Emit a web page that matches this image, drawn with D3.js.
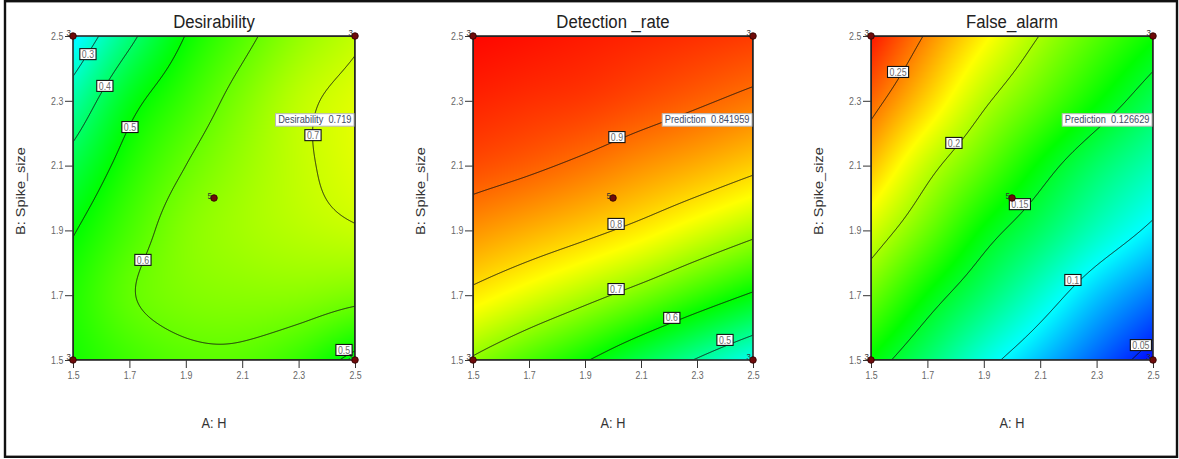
<!DOCTYPE html>
<html>
<head>
<meta charset="utf-8">
<script src="https://cdn.jsdelivr.net/npm/d3@7"></script>
<style>
  body { margin: 0; background: #fff; }
  svg { display: block; }
  text { font-family: "Liberation Sans", Arial, sans-serif; }
</style>
</head>
<body>
<svg id="chart" width="1179" height="459"></svg>
<script>
// Factor levels (grid nodes) and tick labels
const factorA = [1.5, 1.7, 1.9, 2.1, 2.3, 2.5];
const factorB = [1.5, 1.7, 1.9, 2.1, 2.3, 2.5];
const tickLabels = ["1.5", "1.7", "1.9", "2.1", "2.3", "2.5"];

// Response surfaces: one row per B level (1.5 -> 2.5), one column per A level (1.5 -> 2.5)
const desirability = [
  [0.52, 0.56, 0.585, 0.585, 0.55, 0.48],
  [0.53, 0.595, 0.625, 0.635, 0.635, 0.62],
  [0.495, 0.57, 0.63, 0.66, 0.68, 0.695],
  [0.43, 0.53, 0.60, 0.65, 0.69, 0.72],
  [0.34, 0.475, 0.555, 0.625, 0.685, 0.72],
  [0.23, 0.38, 0.502, 0.58, 0.645, 0.69]
];
const detectionRate = [
  [0.694, 0.649, 0.604, 0.550, 0.496, 0.440],
  [0.787, 0.752, 0.717, 0.679, 0.636, 0.593],
  [0.863, 0.839, 0.814, 0.785, 0.750, 0.715],
  [0.925, 0.909, 0.889, 0.864, 0.840, 0.813],
  [0.960, 0.950, 0.941, 0.925, 0.907, 0.887],
  [0.985, 0.977, 0.968, 0.959, 0.950, 0.940]
];
const falseAlarm = [
  [0.159, 0.134, 0.107, 0.085, 0.063, 0.042],
  [0.186, 0.159, 0.135, 0.111, 0.087, 0.068],
  [0.211, 0.185, 0.158, 0.137, 0.115, 0.096],
  [0.235, 0.206, 0.182, 0.158, 0.136, 0.118],
  [0.256, 0.230, 0.203, 0.182, 0.161, 0.140],
  [0.275, 0.248, 0.223, 0.1995, 0.180, 0.162]
];

// Contour levels
const desirabilityLevels = [0.3, 0.4, 0.5, 0.6, 0.7];
const detectionLevels = [0.5, 0.6, 0.7, 0.8, 0.9];
const falseAlarmLevels = [0.05, 0.1, 0.15, 0.2, 0.25];

// Contour label anchors (A, B)
const desirabilityTags = [
  ["0.3", 1.553, 2.444], ["0.4", 1.613, 2.346], ["0.5", 1.702, 2.219],
  ["0.6", 1.748, 1.809], ["0.7", 2.351, 2.194], ["0.5", 2.461, 1.531]
];
const detectionTags = [
  ["0.9", 2.014, 2.188], ["0.8", 2.011, 1.92], ["0.7", 2.011, 1.719],
  ["0.6", 2.21, 1.63], ["0.5", 2.40, 1.562]
];
const falseAlarmTags = [
  ["0.25", 1.596, 2.389], ["0.2", 1.794, 2.17], ["0.15", 2.028, 1.981],
  ["0.1", 2.216, 1.747], ["0.05", 2.457, 1.546]
];

// Colour ramp stops (value at blue, cyan, green, yellow, red)
const desirabilityStops = [0, 0.25, 0.5, 0.75, 1.0];
const detectionStops = [0.26, 0.43, 0.6, 0.77, 0.99];
const falseAlarmStops = [0.04, 0.10, 0.16, 0.22, 0.28];
const ramp = ["#0000ff", "#00ffff", "#00ff00", "#ffff00", "#ff0000"];

// Design points: [A, B, replicate count]
const designPoints = [[1.5, 2.5, 3], [2.5, 2.5, 3], [1.5, 1.5, 3], [2.5, 1.5, 3], [2.0, 2.0, 5]];

// Flagged optimum and its predicted responses
const flagA = 2.5, flagB = 2.18;
const flagTexts = ["Desirability  0.719", "Prediction  0.841959", "Prediction  0.126629"];

const titles = ["Desirability", "Detection _rate", "False_alarm"];
const xTitle = "A: H";
const yTitle = "B: Spike_size";

const svg = d3.select("#chart");
const SQ = 0.88; // horizontal glyph compression

const panels = [
  { grid: desirability, levels: desirabilityLevels, stops: desirabilityStops, tags: desirabilityTags, left: 73, right: 355 },
  { grid: detectionRate, levels: detectionLevels, stops: detectionStops, tags: detectionTags, left: 473, right: 753 },
  { grid: falseAlarm, levels: falseAlarmLevels, stops: falseAlarmStops, tags: falseAlarmTags, left: 871, right: 1153 }
];
const plotTop = 36, plotBottom = 360;

// Catmull-Rom sampling across the factor grid
function cr(p0, p1, p2, p3, t) {
  return 0.5 * (2 * p1 + (-p0 + p2) * t + (2 * p0 - 5 * p1 + 4 * p2 - p3) * t * t + (-p0 + 3 * p1 - 3 * p2 + p3) * t * t * t);
}
function sample1(arr, u) {
  const n = arr.length;
  const i = Math.max(0, Math.min(Math.floor(u), n - 2));
  const t = u - i;
  const g = k => k < 0 ? 2 * arr[0] - arr[1] : k >= n ? 2 * arr[n - 1] - arr[n - 2] : arr[k];
  return cr(g(i - 1), g(i), g(i + 1), g(i + 2), t);
}
function surface(grid, a, b) {
  const u = (a - factorA[0]) / (factorA[1] - factorA[0]);
  const v = (b - factorB[0]) / (factorB[1] - factorB[0]);
  const col = grid.map(row => sample1(row, u));
  return sample1(col, v);
}

function place(sel, x, y, rot) {
  sel.attr("transform", `translate(${x},${y}) scale(${SQ},1)` + (rot ? ` rotate(${rot})` : ""));
}

panels.forEach((p, k) => {
  const x = d3.scaleLinear([1.5, 2.5], [p.left, p.right]);
  const y = d3.scaleLinear([1.5, 2.5], [plotBottom, plotTop]);
  const w = p.right - p.left, h = plotBottom - plotTop;
  const nx = Math.round(w), ny = Math.round(h);
  const color = d3.scaleLinear().domain(p.stops).range(ramp).clamp(true);

  // sample the surface on a fine grid
  const values = new Float64Array(nx * ny);
  for (let j = 0; j < ny; j++) {
    const b = y.invert(plotTop + (j + 0.5) * h / ny);
    for (let i = 0; i < nx; i++) {
      const a = x.invert(p.left + (i + 0.5) * w / nx);
      values[j * nx + i] = surface(p.grid, a, b);
    }
  }

  // colour fill
  const canvas = document.createElement("canvas");
  canvas.width = nx; canvas.height = ny;
  const ctx = canvas.getContext("2d");
  const img = ctx.createImageData(nx, ny);
  for (let n = 0; n < values.length; n++) {
    const c = d3.rgb(color(values[n]));
    img.data[4 * n] = c.r; img.data[4 * n + 1] = c.g; img.data[4 * n + 2] = c.b; img.data[4 * n + 3] = 255;
  }
  ctx.putImageData(img, 0, 0);

  const g = svg.append("g");
  const clipId = "clip" + k;
  g.append("clipPath").attr("id", clipId)
    .append("rect").attr("x", p.left).attr("y", plotTop).attr("width", w).attr("height", h);

  g.append("image")
    .attr("x", p.left).attr("y", plotTop).attr("width", w).attr("height", h)
    .attr("preserveAspectRatio", "none")
    .attr("href", canvas.toDataURL());

  // contour lines
  const contours = d3.contours().size([nx, ny]).thresholds(p.levels)(values);
  const proj = d3.geoTransform({
    point(px, py) { this.stream.point(p.left + px * w / nx, plotTop + py * h / ny); }
  });
  g.append("g").attr("clip-path", `url(#${clipId})`)
    .selectAll("path").data(contours).join("path")
    .attr("d", d3.geoPath(proj))
    .attr("fill", "none").attr("stroke", "#111").attr("stroke-width", 0.9);

  // frame
  g.append("rect").attr("x", p.left).attr("y", plotTop).attr("width", w).attr("height", h)
    .attr("fill", "none").attr("stroke", "#2a2a2a").attr("stroke-width", 1.6);

  // axes
  const styleAxis = ax => {
    ax.select(".domain").remove();
    ax.selectAll("line").attr("stroke", "#333");
    ax.selectAll("text").attr("fill", "#666").attr("font-size", 10)
      .attr("font-family", "Liberation Sans, Arial, sans-serif")
      .attr("transform", `scale(${SQ},1)`);
  };
  g.append("g").attr("transform", `translate(${p.left},0)`)
    .call(d3.axisLeft(y).tickValues(factorB).tickSize(8).tickPadding(3).tickFormat((d, i) => tickLabels[i]))
    .call(styleAxis);
  g.append("g").attr("transform", `translate(0,${plotBottom})`)
    .call(d3.axisBottom(x).tickValues(factorA).tickSize(8).tickPadding(4).tickFormat((d, i) => tickLabels[i]))
    .call(styleAxis);

  // titles
  g.append("text").text(titles[k]).attr("text-anchor", "middle")
    .attr("font-size", 19).attr("fill", "#222").call(place, (p.left + p.right) / 2, 28);
  g.append("text").text(xTitle).attr("text-anchor", "middle")
    .attr("font-size", 14.5).attr("fill", "#333").call(place, (p.left + p.right) / 2, 428);
  g.append("text").text(yTitle).attr("text-anchor", "middle")
    .attr("font-size", 14.5).attr("fill", "#333").call(place, p.left - 48, 191, -90);

  // contour value tags
  p.tags.forEach(([lab, a, b]) => {
    const cx = x(a), cy = y(b);
    const tg = g.append("g");
    const t = tg.append("text").text(lab).attr("text-anchor", "middle").attr("dy", "0.36em")
      .attr("font-size", 10).attr("fill", "#6a6a6a");
    place(t, cx, cy);
    const tw = t.node().getComputedTextLength() * SQ + 4;
    tg.insert("rect", "text").attr("x", cx - tw / 2).attr("y", cy - 5.5).attr("width", tw).attr("height", 11)
      .attr("fill", "#fff").attr("stroke", "#111").attr("stroke-width", 1.1);
  });

  // design points
  designPoints.forEach(([a, b, cnt]) => {
    g.append("circle").attr("cx", x(a)).attr("cy", y(b)).attr("r", 3.3)
      .attr("fill", "#6e0b0b").attr("stroke", "#2b0000").attr("stroke-width", 0.8);
    g.append("text").text(cnt).attr("text-anchor", "end").attr("font-size", 9).attr("fill", "#333")
      .call(place, x(a) - 2, y(b) + (cnt === 5 ? 1 : -0.5));
  });

  // flag box with predicted response
  const fx = x(flagA), fy = y(flagB);
  const fg = g.append("g");
  const ft = fg.append("text").text(flagTexts[k]).attr("font-size", 10.5).attr("fill", "#3e4a66")
    .style("white-space", "pre").attr("text-anchor", "end");
  const fw = ft.node().getComputedTextLength() * SQ + 5;
  place(ft, fx - 3.5, fy - 16.5);
  fg.insert("rect", "text").attr("x", fx - 1 - fw).attr("y", fy - 26).attr("width", fw).attr("height", 12.5)
    .attr("fill", "#fff").attr("stroke", "#b8b8b8").attr("stroke-width", 1);
});

// outer frame
svg.append("rect").attr("x", 5).attr("y", 1.2).attr("width", 1172).attr("height", 455.6)
  .attr("fill", "none").attr("stroke", "#111").attr("stroke-width", 2.4);
</script>
</body>
</html>
